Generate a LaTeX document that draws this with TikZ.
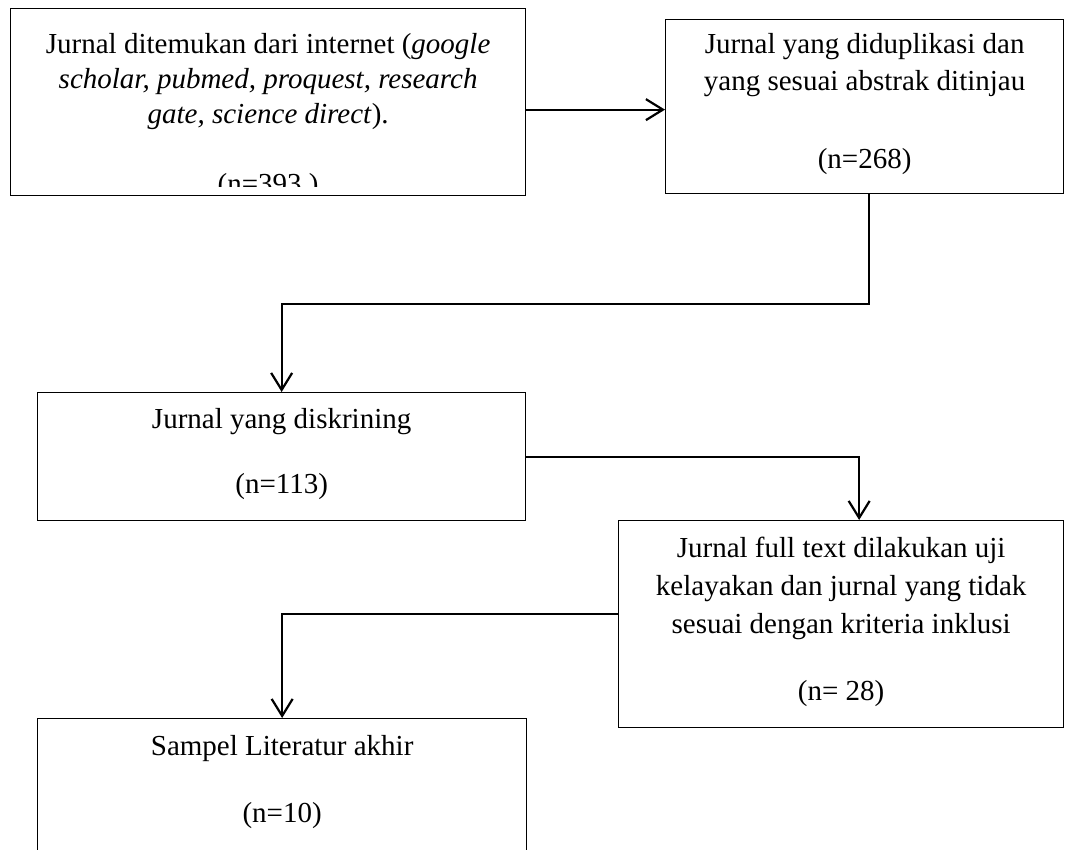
\documentclass[tikz,border=0pt]{standalone}
\usepackage{fontspec}
\setmainfont{Liberation Serif}
\usetikzlibrary{arrows.meta, calc}

\newcommand{\tstrut}{\rule{0pt}{22pt}}
% width, height, baselineskip, top gap, text
\newcommand{\boxtxt}[5]{\parbox[c][#2][t]{#1}{\centering\fontsize{29}{#3}\selectfont\vspace*{#4}\tstrut #5}}

\begin{document}
\begin{tikzpicture}[x=1pt, y=-1pt]

\tikzset{flowbox/.style = {draw, line width=1.3pt, inner sep=0pt, anchor=north west}}
\tikzset{edge/.style = {->, > = {Straight Barb[length=17pt, width=21pt]}, line width=2.2pt}}
\useasboundingbox (0,0) rectangle (1065,850);
% boxes
\node[flowbox, path picture={
  \clip (path picture bounding box.north west) rectangle ([yshift=-178pt]path picture bounding box.north east);
  \node[anchor=base, inner sep=0pt, font=\fontsize{29}{34}\selectfont] (b1n) at ([yshift=-185pt]path picture bounding box.north) {(n=393 )};
}] (b1) at (10,8) {\boxtxt{515pt}{187pt}{35pt}{23pt}{Jurnal ditemukan dari internet (\textit{google}\\ \textit{scholar, pubmed, proquest, research}\\ \textit{gate, science direct}).}};
\node[flowbox] (b2) at (665,19) {\boxtxt{398pt}{174pt}{37pt}{12pt}{Jurnal yang diduplikasi dan\\ yang sesuai abstrak ditinjau\\[41pt] (n=268)}};
\node[flowbox] (b3) at (37,392) {\boxtxt{488pt}{128pt}{40pt}{14pt}{Jurnal yang diskrining\\[25pt] (n=113)}};
\node[flowbox] (b4) at (618,520) {\boxtxt{445pt}{207pt}{38pt}{15pt}{Jurnal full text dilakukan uji\\ kelayakan dan jurnal yang tidak\\ sesuai dengan kriteria inklusi\\[29pt] (n= 28)}};
\node[flowbox] (b5) at (37,718) {\boxtxt{489pt}{160pt}{38pt}{15pt}{Sampel Literatur akhir\\[29pt] (n=10)}};
%edges
\coordinate (in2) at ($(b2.west)+(0,3)$);
\draw[edge] (b1.east |- in2) -- (in2);
\draw[edge] ($(b2.south)+(4,0)$) -- ++(0,110) -| (b3.north);
\draw[edge] (b3.east) -| ($(b4.north)+(18,0)$);
\draw[edge] ($(b4.west)+(0,-10)$) -| (b5.north);
\end{tikzpicture}
\end{document}
